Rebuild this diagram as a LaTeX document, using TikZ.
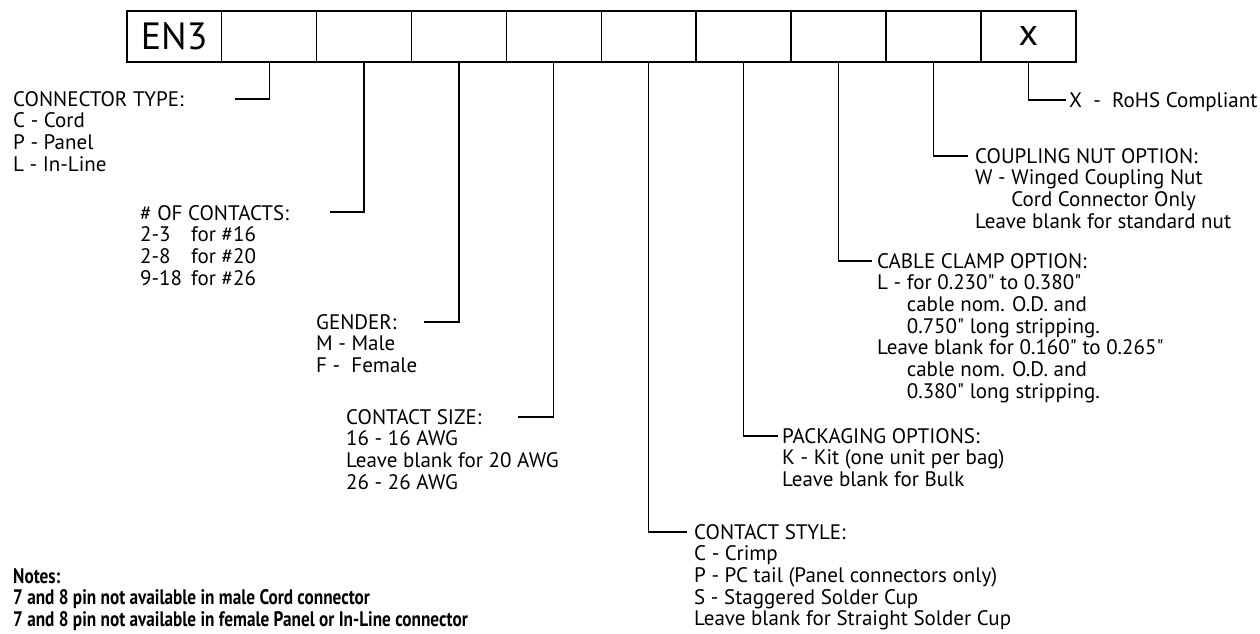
\documentclass[tikz,border=0pt]{standalone}
\usepackage{fontspec}
\setmainfont{PT Sans}[Ligatures=TeXOff]
\newfontfamily\notesfont[FakeStretch=0.82,Ligatures=TeXOff]{PT Sans}
\begin{document}
\begin{tikzpicture}[x=1pt,y=-1pt,
  cell/.style={draw,line width=1.5pt,minimum width=94.9pt,minimum height=51pt,inner sep=0pt,anchor=north west,font=\fontsize{38}{40}\selectfont},
  lbl/.style={anchor=base west,inner sep=0pt,font=\fontsize{21}{21.7}\selectfont},
  notes/.style={anchor=base west,inner sep=0pt,font=\fontsize{21}{21.7}\notesfont\bfseries},
  conn/.style={line width=1.2pt}]
\fill[white] (0,0) rectangle (1260,633);
\useasboundingbox (0,0) rectangle (1260,633);
% code boxes
\node[cell] (b0) at (126,10) {EN3};
\node[cell] (b1) at (220.9,10) {};
\node[cell] (b2) at (315.8,10) {};
\node[cell] (b3) at (410.7,10) {};
\node[cell] (b4) at (505.6,10) {};
\node[cell] (b5) at (600.5,10) {};
\node[cell] (b6) at (695.4,10) {};
\node[cell] (b7) at (790.3,10) {};
\node[cell] (b8) at (885.2,10) {};
\node[cell] (b9) at (980.1,10) {x};
% labels
\node[lbl] (t1) at (13,106) {\begin{tabular}[t]{@{}l@{}}CONNECTOR TYPE:\\ C - Cord\\ P - Panel\\ L - In-Line\end{tabular}};
\node[lbl] (t2) at (140,220) {\begin{tabular}[t]{@{}l@{}}\# OF CONTACTS:\\ \makebox[51pt][l]{2-3}for \#16\\ \makebox[51pt][l]{2-8}for \#20\\ \makebox[51pt][l]{9-18}for \#26\end{tabular}};
\node[lbl] (t3) at (316,329) {\begin{tabular}[t]{@{}l@{}}GENDER:\\ M - Male\\ F -\ \ Female\end{tabular}};
\node[lbl] (t4) at (346,424) {\begin{tabular}[t]{@{}l@{}}CONTACT SIZE:\\ 16 - 16 AWG\\ Leave blank for 20 AWG\\ 26 - 26 AWG\end{tabular}};
\node[lbl] (t5) at (694,539) {\begin{tabular}[t]{@{}l@{}}CONTACT STYLE:\\ C - Crimp\\ P - PC tail (Panel connectors only)\\ S - Staggered Solder Cup\\ Leave blank for Straight Solder Cup\end{tabular}};
\node[lbl] (t6) at (782,443) {\begin{tabular}[t]{@{}l@{}}PACKAGING OPTIONS:\\ K - Kit (one unit per bag)\\ Leave blank for Bulk\end{tabular}};
\node[lbl] (t7) at (877,268) {\begin{tabular}[t]{@{}l@{}}CABLE CLAMP OPTION:\\ L - for 0.230" to 0.380"\\ \hphantom{L - }cable nom. O.D. and\\ \hphantom{L - }0.750" long stripping.\\ Leave blank for 0.160" to 0.265"\\ \hphantom{L - }cable nom. O.D. and\\ \hphantom{L - }0.380" long stripping.\end{tabular}};
\node[lbl] (t8) at (975,163) {\begin{tabular}[t]{@{}l@{}}COUPLING NUT OPTION:\\ W - Winged Coupling Nut\\ \hphantom{W - }Cord Connector Only\\ Leave blank for standard nut\end{tabular}};
\node[lbl] (t9) at (1069,107) {X\ \ -\ \ RoHS Compliant};
\node[notes] (n1) at (13,583) {\begin{tabular}[t]{@{}l@{}}Notes:\\ 7 and 8 pin not available in male Cord connector\\ 7 and 8 pin not available in female Panel or In-Line connector\end{tabular}};
% connector end points
\coordinate (e1) at (235,99);
\coordinate (e2) at (330,212);
\coordinate (e3) at (424,322);
\coordinate (e4) at (518,417);
\coordinate (e5) at (687,532);
\coordinate (e6) at (778,436);
\coordinate (e7) at (872,261);
\coordinate (e8) at (968,156);
\coordinate (e9) at (1066,100);
\draw[conn] (b1.south) |- (e1);
\draw[conn] (b2.south) |- (e2);
\draw[conn] (b3.south) |- (e3);
\draw[conn] (b4.south) |- (e4);
\draw[conn] (b5.south) |- (e5);
\draw[conn] (b6.south) |- (e6);
\draw[conn] (b7.south) |- (e7);
\draw[conn] (b8.south) |- (e8);
\draw[conn] (b9.south) |- (e9);
\end{tikzpicture}
\end{document}
